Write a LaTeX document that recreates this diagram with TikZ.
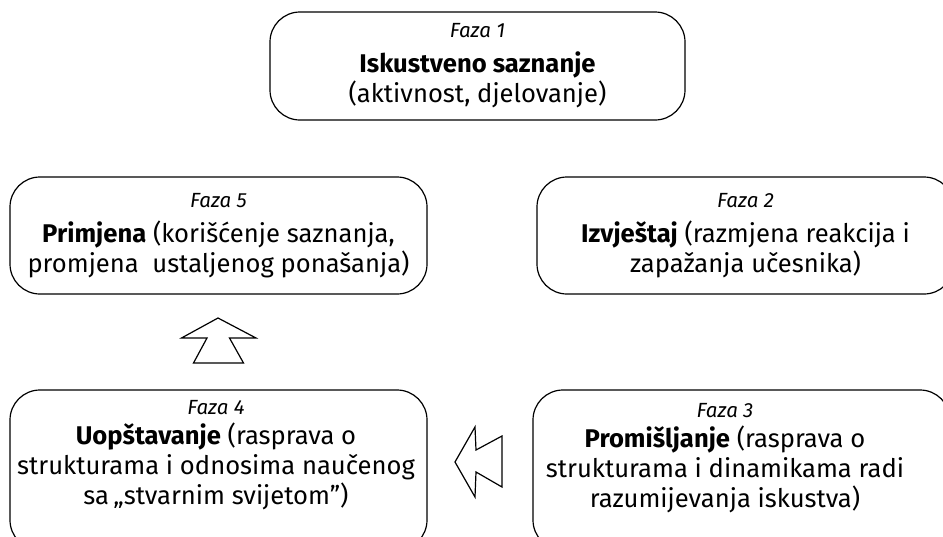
\documentclass[tikz,border=0pt]{standalone}
\usepackage{fontspec}
\setmainfont{Fira Sans}

\begin{document}
\begin{tikzpicture}[x=1pt,y=-1pt,
    faza/.style={draw,line width=1.2pt,rounded corners=30pt,minimum width=417pt,
      align=center,inner sep=0pt,font=\fontsize{25.6}{30}\selectfont},
    tekst/.style={align=center,inner sep=0pt,font=\fontsize{25.6}{30}\selectfont},
    blokstrelica/.style={draw,line width=1.2pt,line join=miter}]
  \useasboundingbox (0,0) rectangle (943,536);
  \clip (0,0) rectangle (943,536);
  % faze ciklusa
  \node[faza,minimum width=415pt,minimum height=108pt] (f1) at (477.5,66)
    {{\fontsize{20.5}{30}\selectfont\itshape Faza 1}\\[5pt]
     \textbf{Iskustveno saznanje}\\(aktivnost, djelovanje)};
  \node[faza,minimum height=117pt] (f5) at (218.5,235.5)
    {{\fontsize{20.5}{30}\selectfont\itshape Faza 5}\\[5pt]
     \textbf{Primjena} (korišćenje saznanja,\\promjena~ ustaljenog ponašanja)};
  \node[faza,minimum height=117pt] (f2) at (745.5,235.5)
    {{\fontsize{20.5}{30}\selectfont\itshape Faza 2}\\[5pt]
     \textbf{Izvještaj} (razmjena reakcija i\\zapažanja učesnika)};
  \node[faza,minimum height=160pt] (f4) at (218.5,470) {};
  \node[tekst] (t4) at (216,455)
    {{\fontsize{20.5}{30}\selectfont\itshape Faza 4}\\
     \textbf{Uopštavanje} (rasprava o\\strukturama i odnosima naučenog\\sa\,„stvarnim svijetom”)};
  \node[faza,minimum height=160pt] (f3) at (741.5,470) {};
  \node[tekst] (t3) at (725,458)
    {{\fontsize{20.5}{30}\selectfont\itshape Faza 3}\\
     \textbf{Promišljanje} (rasprava o\\strukturama i dinamikama radi\\razumijevanja iskustva)};
  % strelice
  \draw[blokstrelica] (218,318) -- (256,338) -- (229.5,338) -- (243.5,363)
    -- (193.5,363) -- (207,338) -- (181.5,338) -- cycle;
  \draw[blokstrelica] (455,462) -- (475,427) -- (476,450) -- (502,436)
    -- (502,487) -- (476,472) -- (475,497) -- cycle;
\end{tikzpicture}
\end{document}
